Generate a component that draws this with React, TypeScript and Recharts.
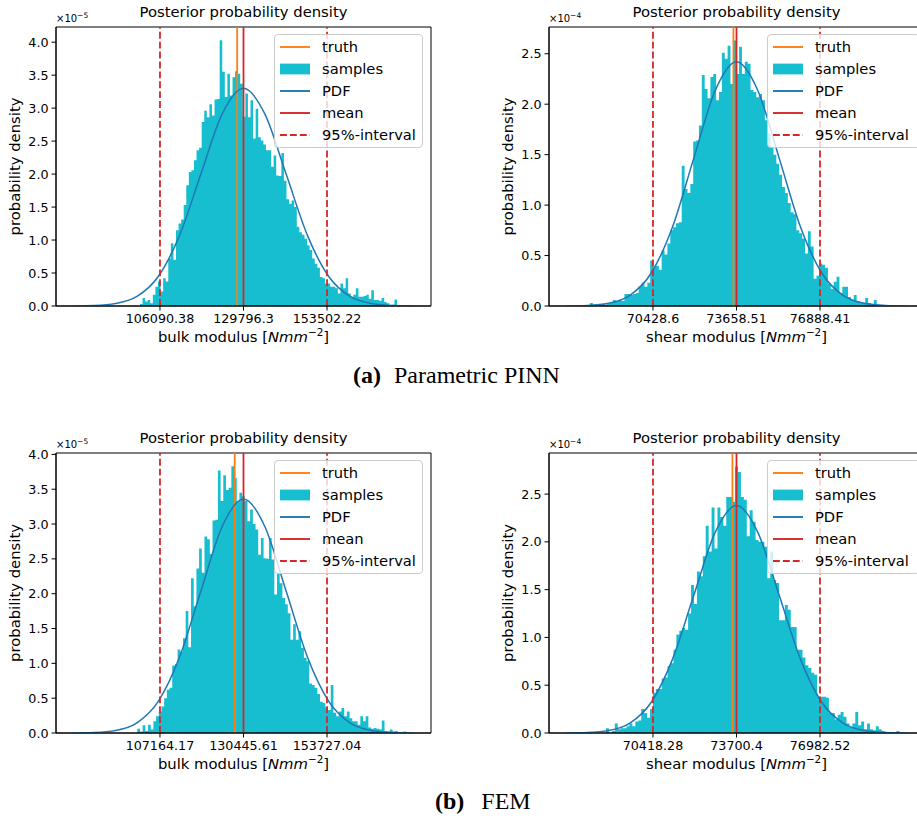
import React from "react";
import { ComposedChart, Area, Line, XAxis, YAxis, ReferenceLine, ReferenceArea, Legend, Label } from "recharts";

const FONT = "'DejaVu Sans', sans-serif";
const SERIF = "'Liberation Serif', 'DejaVu Serif', serif";
const CYAN = "#17becf";
const BLUE = "#1f77b4";
const ORANGE = "#ff7f0e";
const RED = "#d62728";

// ---- (a) Parametric PINN, bulk modulus (density x 1e-5) ----
const pinnBulkCounts = [
  0.03, 0.12, 0.07, 0.09, 0.04, 0.17, 0.29, 0.37, 0.22, 0.42,
  0.37, 0.72, 0.95, 0.70, 1.15, 1.25, 1.31, 1.53, 1.83, 2.03,
  2.06, 2.21, 2.36, 2.40, 2.79, 2.96, 2.86, 3.06, 2.89, 3.13,
  3.14, 4.03, 3.55, 3.17, 3.52, 3.19, 3.47, 3.56, 3.52, 3.37,
  2.87, 3.22, 2.86, 3.12, 2.54, 2.99, 2.56, 2.51, 2.45, 2.36,
  2.36, 2.11, 2.28, 1.98, 1.97, 2.32, 1.90, 1.62, 1.55, 1.60,
  1.50, 1.20, 1.12, 1.08, 1.02, 0.92, 0.85, 0.72, 0.64, 0.58,
  0.44, 0.42, 0.34, 0.34, 0.29, 0.29, 0.27, 0.19, 0.34, 0.27,
  0.42, 0.19, 0.14, 0.17, 0.27, 0.14, 0.14, 0.15, 0.17, 0.11,
  0.24, 0.09, 0.09, 0.08, 0.12, 0.06, 0.04, 0.00, 0.02, 0.10,
];
const pinnBulkRange = [100420, 173364];
const pinnBulkPdfX = [81416, 87464, 93511, 99559, 105606, 111654, 117701, 123749, 129796, 135844, 141891, 147939, 153986, 160034, 166081, 172129, 178176];
const pinnBulkPdfY = [0.001, 0.007, 0.037, 0.145, 0.447, 1.071, 2.001, 2.912, 3.3, 2.912, 2.001, 1.071, 0.447, 0.145, 0.037, 0.007, 0.001];
const pinnBulkMarks = [128000, 129796.3, 106090.38, 153502.22]; // truth, mean, low, high
const pinnBulkTickLabels = ["106090.38", "129796.3", "153502.22"];

// ---- (a) Parametric PINN, shear modulus (density x 1e-4) ----
const pinnShearCounts = [
  0.03, 0.00, 0.00, 0.02, 0.02, 0.01, 0.02, 0.03, 0.06, 0.05,
  0.06, 0.05, 0.12, 0.12, 0.11, 0.12, 0.13, 0.19, 0.23, 0.19,
  0.23, 0.45, 0.39, 0.40, 0.36, 0.55, 0.51, 0.62, 0.75, 0.78,
  0.82, 0.83, 1.39, 1.16, 1.12, 1.21, 1.63, 1.64, 1.79, 2.29,
  2.15, 2.06, 2.27, 2.30, 2.04, 2.12, 2.51, 2.45, 2.58, 2.20,
  2.63, 2.30, 2.57, 2.30, 2.42, 2.40, 2.14, 2.12, 2.07, 2.10,
  2.04, 1.84, 1.71, 1.58, 1.50, 1.41, 1.30, 1.18, 1.12, 1.02,
  0.93, 0.91, 0.75, 0.72, 0.67, 0.52, 0.74, 0.59, 0.27, 0.30,
  0.42, 0.41, 0.38, 0.22, 0.17, 0.24, 0.29, 0.13, 0.19, 0.19,
  0.09, 0.06, 0.11, 0.05, 0.03, 0.03, 0.08, 0.03, 0.02, 0.06,
];
const pinnShearRange = [67993, 79080];
const pinnShearPdfX = [67067, 67891, 68715, 69539, 70363, 71187, 72011, 72835, 73659, 74482, 75306, 76130, 76954, 77778, 78602, 79426, 80250];
const pinnShearPdfY = [0.0007, 0.0053, 0.027, 0.106, 0.327, 0.786, 1.468, 2.136, 2.42, 2.136, 1.468, 0.786, 0.327, 0.106, 0.027, 0.0053, 0.0007];
const pinnShearMarks = [73540, 73658.51, 70428.6, 76888.41];
const pinnShearTickLabels = ["70428.6", "73658.51", "76888.41"];

// ---- (b) FEM, bulk modulus (density x 1e-5) ----
const femBulkCounts = [
  0.06, 0.02, 0.11, 0.03, 0.12, 0.05, 0.17, 0.24, 0.31, 0.38,
  0.50, 0.62, 0.65, 0.97, 0.99, 1.20, 1.17, 1.36, 1.75, 1.23,
  2.22, 1.82, 2.36, 2.65, 2.30, 2.82, 2.78, 2.57, 3.05, 3.06,
  3.77, 3.33, 3.70, 3.49, 3.52, 3.83, 3.66, 3.33, 3.45, 3.40,
  3.33, 3.04, 3.21, 3.00, 2.92, 2.56, 2.80, 2.51, 2.50, 2.80,
  2.49, 1.99, 2.30, 2.15, 1.94, 1.85, 1.72, 1.34, 1.56, 1.34,
  1.46, 1.22, 1.08, 1.03, 0.71, 0.69, 0.65, 0.56, 0.45, 0.43,
  0.37, 0.33, 0.69, 0.29, 0.24, 0.31, 0.36, 0.24, 0.31, 0.21,
  0.17, 0.17, 0.12, 0.24, 0.17, 0.24, 0.08, 0.06, 0.07, 0.06,
  0.05, 0.18, 0.03, 0.02, 0.05, 0.02, 0.03, 0.01, 0.00, 0.02,
];
const femBulkRange = [100843, 175741];
const femBulkPdfX = [82932, 88872, 94811, 100750, 106689, 112628, 118567, 124506, 130446, 136385, 142324, 148263, 154202, 160141, 166080, 172020, 177959];
const femBulkPdfY = [0.001, 0.0074, 0.037, 0.147, 0.455, 1.091, 2.038, 2.965, 3.36, 2.965, 2.038, 1.091, 0.455, 0.147, 0.037, 0.0074, 0.001];
const femBulkMarks = [128000, 130445.61, 107164.17, 153727.04];
const femBulkTickLabels = ["107164.17", "130445.61", "153727.04"];

// ---- (b) FEM, shear modulus (density x 1e-4) ----
const femShearCounts = [
  0.05, 0.00, 0.02, 0.10, 0.04, 0.05, 0.05, 0.07, 0.10, 0.07,
  0.12, 0.13, 0.25, 0.21, 0.16, 0.25, 0.42, 0.46, 0.46, 0.57,
  0.58, 0.70, 0.73, 0.87, 1.03, 1.07, 1.10, 1.08, 1.25, 1.55,
  1.35, 1.69, 1.64, 1.85, 2.17, 1.90, 2.36, 1.93, 2.36, 2.26,
  2.17, 2.47, 2.47, 2.42, 2.79, 2.73, 2.47, 2.44, 2.06, 2.33,
  2.21, 2.02, 2.00, 2.00, 1.95, 1.62, 1.90, 1.60, 1.57, 1.18,
  1.18, 1.34, 1.29, 1.11, 1.11, 0.87, 0.87, 0.79, 0.71, 0.68,
  0.63, 0.61, 0.38, 0.38, 0.38, 0.37, 0.21, 0.21, 0.14, 0.19,
  0.22, 0.17, 0.10, 0.06, 0.10, 0.22, 0.08, 0.12, 0.04, 0.10,
  0.04, 0.03, 0.07, 0.04, 0.02, 0.01, 0.00, 0.01, 0.00, 0.02,
];
const femShearRange = [68572, 80098];
const femShearPdfX = [67002, 67839, 68676, 69514, 70351, 71188, 72026, 72863, 73700, 74538, 75375, 76212, 77050, 77887, 78724, 79562, 80399];
const femShearPdfY = [0.0007, 0.0052, 0.026, 0.104, 0.322, 0.773, 1.443, 2.1, 2.38, 2.1, 1.443, 0.773, 0.322, 0.104, 0.026, 0.0052, 0.0007];
const femShearMarks = [73540, 73700.4, 70418.28, 76982.52];
const femShearTickLabels = ["70418.28", "73700.4", "76982.52"];

const bulkTicksY = [0, 0.5, 1, 1.5, 2, 2.5, 3, 3.5, 4];
const shearTicksY = [0, 0.5, 1, 1.5, 2, 2.5];
const legendNames = ["truth", "samples", "PDF", "mean", "95%-interval"];

function buildRows(counts: number[], range: number[], pdfX: number[], pdfY: number[]) {
  const [lo, hi] = range;
  const w = (hi - lo) / counts.length;
  const rows: any[] = counts.map((c, i) => ({ x: lo + i * w, hist: c }));
  rows.push({ x: hi, hist: counts[counts.length - 1] });
  pdfX.forEach((x, i) => rows.push({ x, pdf: pdfY[i] }));
  return rows.sort((a, b) => a.x - b.x);
}

function LegendBox({ width }: { width: number }) {
  return (
    <div
      style={{
        width,
        height: 114,
        boxSizing: "border-box",
        border: "1px solid #cccccc",
        borderRadius: 4,
        background: "rgba(255,255,255,0.8)",
        position: "relative",
        fontFamily: FONT,
        fontSize: 14.7,
        color: "#000",
      }}
    >
      {legendNames.map((name, i) => (
        <div
          key={name}
          style={{ position: "absolute", left: 0, top: 1 + i * 21.9, height: 22, display: "flex", alignItems: "center", whiteSpace: "nowrap" }}
        >
          <svg width={47} height={22} style={{ display: "block" }}>
            {i === 1 ? (
              <rect x={5} y={5.6} width={30} height={10.8} fill={CYAN} />
            ) : (
              <line
                x1={5}
                x2={35}
                y1={11}
                y2={11}
                stroke={i === 0 ? ORANGE : i === 2 ? BLUE : RED}
                strokeWidth={1.9}
                strokeDasharray={i === 4 ? "6.9 3" : undefined}
              />
            )}
          </svg>
          <span style={{ lineHeight: "22px" }}>{name}</span>
        </div>
      ))}
    </div>
  );
}

interface PanelProps {
  left: number;
  top: number;
  width: number;
  marginLeft: number;
  marginRight: number;
  marginTop: number;
  marginBottom: number;
  legendWidth: number;
  counts: number[];
  range: number[];
  pdfX: number[];
  pdfY: number[];
  marks: number[];
  tickLabels: string[];
  xDomain: number[];
  yMax: number;
  yTicks: number[];
  exponent: string;
  quantity: string;
}

function Panel(p: PanelProps) {
  const rows = buildRows(p.counts, p.range, p.pdfX, p.pdfY);
  const [truth, mean, low, high] = p.marks;
  const xTicks = [low, mean, high];
  const plotLeft = p.marginLeft + 40;
  const plotW = p.width - plotLeft - p.marginRight;
  const height = 360;

  const renderXLabel = (props: any) => {
    const vb = props.viewBox || {};
    return (
      <text x={vb.x + vb.width / 2} y={vb.y + 36} textAnchor="middle" fontFamily={FONT} fontSize={14.8} fill="#000">
        <tspan>{p.quantity} [</tspan>
        <tspan fontStyle="italic">Nmm</tspan>
        <tspan dy={-6} fontSize={10.4}>−2</tspan>
        <tspan dy={6}>]</tspan>
      </text>
    );
  };

  return (
    <div style={{ position: "absolute", left: p.left, top: p.top, width: p.width, height }}>
      <div
        style={{
          position: "absolute",
          left: plotLeft,
          width: plotW,
          top: p.marginTop - 22,
          textAlign: "center",
          fontFamily: FONT,
          fontSize: 14.8,
          lineHeight: "14.8px",
          color: "#000",
          whiteSpace: "nowrap",
        }}
      >
        Posterior probability density
      </div>
      <div
        style={{
          position: "absolute",
          left: plotLeft,
          top: p.marginTop - 16,
          fontFamily: FONT,
          fontSize: 10,
          lineHeight: "10px",
          color: "#000",
          whiteSpace: "nowrap",
        }}
      >
        ×10<sup style={{ fontSize: 7.5, verticalAlign: 4 }}>−{p.exponent}</sup>
      </div>
      <ComposedChart
        width={p.width}
        height={height}
        data={rows}
        margin={{ top: p.marginTop, left: p.marginLeft, right: p.marginRight, bottom: p.marginBottom }}
      >
        <XAxis
          type="number"
          dataKey="x"
          domain={p.xDomain}
          allowDataOverflow
          ticks={xTicks}
          interval={0}
          tickFormatter={(v: number) => p.tickLabels[xTicks.indexOf(v)]}
          height={30}
          tickSize={4.5}
          tickMargin={3}
          tick={{ fill: "#000", fontSize: 12.7, fontFamily: FONT }}
          axisLine={{ stroke: "#000", strokeWidth: 1 }}
          tickLine={{ stroke: "#000", strokeWidth: 1 }}
        >
          <Label content={renderXLabel} />
        </XAxis>
        <YAxis
          type="number"
          domain={[0, p.yMax]}
          allowDataOverflow
          ticks={p.yTicks}
          interval={0}
          tickFormatter={(v: number) => v.toFixed(1)}
          width={40}
          tickSize={4.5}
          tickMargin={3}
          tick={{ fill: "#000", fontSize: 12.7, fontFamily: FONT }}
          axisLine={{ stroke: "#000", strokeWidth: 1 }}
          tickLine={{ stroke: "#000", strokeWidth: 1 }}
        >
          <Label
            value="probability density"
            angle={-90}
            position="insideLeft"
            offset={-1}
            style={{ textAnchor: "middle", fontSize: 14.8, fontFamily: FONT, fill: "#000" }}
          />
        </YAxis>
        <Area
          dataKey="hist"
          type="stepAfter"
          fill={CYAN}
          fillOpacity={1}
          stroke="none"
          connectNulls
          isAnimationActive={false}
        />
        <ReferenceLine x={truth} stroke={ORANGE} strokeWidth={1.8} />
        <Line dataKey="pdf" type="monotone" stroke={BLUE} strokeWidth={1.5} dot={false} activeDot={false} connectNulls isAnimationActive={false} />
        <ReferenceLine x={mean} stroke={RED} strokeWidth={1.8} />
        <ReferenceLine x={low} stroke={RED} strokeWidth={1.8} strokeDasharray="6.9 3" />
        <ReferenceLine x={high} stroke={RED} strokeWidth={1.8} strokeDasharray="6.9 3" />
        {/* axes frame (matplotlib spines on all four sides) */}
        <ReferenceArea
          x1={p.xDomain[0]}
          x2={p.xDomain[1]}
          y1={0}
          y2={p.yMax}
          fill="none"
          fillOpacity={0}
          stroke="#000"
          strokeWidth={1}
          ifOverflow="visible"
        />
        <Legend
          layout="vertical"
          align="center"
          verticalAlign="middle"
          content={() => <LegendBox width={p.legendWidth} />}
          wrapperStyle={{ left: plotLeft + plotW - 157, top: p.marginTop + 7, width: p.legendWidth, height: 114 }}
        />
      </ComposedChart>
    </div>
  );
}

const captionStyle: React.CSSProperties = {
  position: "absolute",
  fontFamily: SERIF,
  fontSize: 24,
  lineHeight: "26px",
  color: "#000",
  whiteSpace: "nowrap",
};

export default function App() {
  return (
    <div style={{ position: "absolute", left: 0, top: 0, width: 917, height: 820, overflow: "hidden", background: "#fff" }}>
      <Panel
        left={0} top={0} width={460} marginLeft={16} marginRight={29} marginTop={27} marginBottom={24} legendWidth={149}
        counts={pinnBulkCounts} range={pinnBulkRange} pdfX={pinnBulkPdfX} pdfY={pinnBulkPdfY}
        marks={pinnBulkMarks} tickLabels={pinnBulkTickLabels} xDomain={[76578, 183014]}
        yMax={4.23} yTicks={bulkTicksY} exponent="5" quantity="bulk modulus"
      />
      <Panel
        left={460} top={0} width={480} marginLeft={49} marginRight={16} marginTop={27} marginBottom={24} legendWidth={153}
        counts={pinnShearCounts} range={pinnShearRange} pdfX={pinnShearPdfX} pdfY={pinnShearPdfY}
        marks={pinnShearMarks} tickLabels={pinnShearTickLabels} xDomain={[66408, 80909]}
        yMax={2.765} yTicks={shearTicksY} exponent="4" quantity="shear modulus"
      />
      <Panel
        left={0} top={426} width={460} marginLeft={16} marginRight={29} marginTop={27} marginBottom={23} legendWidth={149}
        counts={femBulkCounts} range={femBulkRange} pdfX={femBulkPdfX} pdfY={femBulkPdfY}
        marks={femBulkMarks} tickLabels={femBulkTickLabels} xDomain={[78181, 182710]}
        yMax={4.02} yTicks={bulkTicksY} exponent="5" quantity="bulk modulus"
      />
      <Panel
        left={460} top={426} width={480} marginLeft={49} marginRight={16} marginTop={27} marginBottom={23} legendWidth={153}
        counts={femShearCounts} range={femShearRange} pdfX={femShearPdfX} pdfY={femShearPdfY}
        marks={femShearMarks} tickLabels={femShearTickLabels} xDomain={[66332, 81069]}
        yMax={2.93} yTicks={shearTicksY} exponent="4" quantity="shear modulus"
      />
      <div style={{ ...captionStyle, left: 353, top: 362 }}>
        <b style={{ marginRight: 13 }}>(a)</b>Parametric PINN
      </div>
      <div style={{ ...captionStyle, left: 435, top: 788 }}>
        <b style={{ marginRight: 17 }}>(b)</b>FEM
      </div>
    </div>
  );
}
